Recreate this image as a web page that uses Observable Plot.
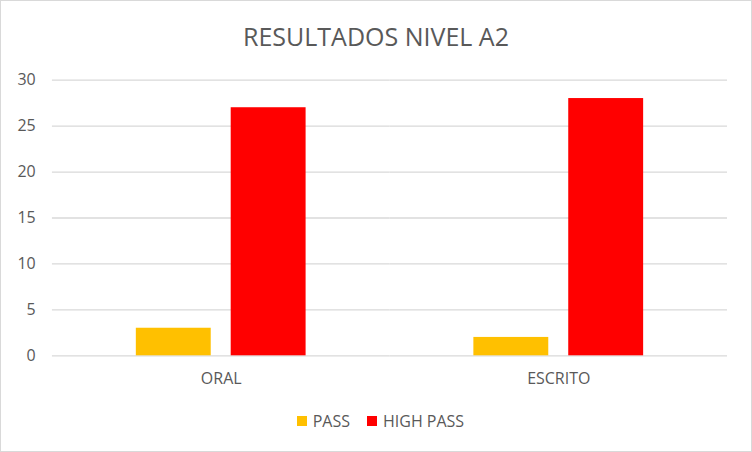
<!DOCTYPE html>
<html>
<head>
<meta charset="utf-8">
<script src="https://cdn.jsdelivr.net/npm/d3@7"></script>
<script src="https://cdn.jsdelivr.net/npm/@observablehq/plot@0.6"></script>
<style>
  html, body { margin: 0; padding: 0; background: #fff; }
  #chart { position: relative; width: 752px; height: 452px; box-sizing: border-box; border: 1px solid #d9d9d9; overflow: hidden; font-family: "Open Sans", sans-serif; color: #595959; }
  #title { position: absolute; left: -1px; width: 752px; top: 18px; text-align: center; font-size: 25px; line-height: normal; white-space: nowrap; }
  #plot { position: absolute; left: -1px; top: 59px; }
  #legend { position: absolute; left: 295.7px; top: 408.6px; display: flex; align-items: center; font-size: 16px; line-height: normal; white-space: nowrap; }
  .sw { width: 10px; height: 10px; display: inline-block; margin-right: 6px; margin-top: 1px; }
  .item { display: flex; align-items: center; margin-right: 17px; }
</style>
</head>
<body>
<div id="chart">
  <div id="title"></div>
  <div id="plot"></div>
  <div id="legend"></div>
</div>
<script>
const titleText = "RESULTADOS NIVEL A2";
const categories = ["ORAL", "ESCRITO"];
const series = ["PASS", "HIGH PASS"];
const passValues = [3, 2];
const highPassValues = [27, 28];
const yTicks = [0, 5, 10, 15, 20, 25, 30];
const colors = ["#FFC000", "#FF0000"];

const seriesValues = [passValues, highPassValues];
const data = [];
categories.forEach((c, i) => {
  series.forEach((s, j) => {
    data.push({category: c, series: s, value: seriesValues[j][i]});
  });
});

document.getElementById("title").textContent = titleText;

const chart = Plot.plot({
  width: 752,
  height: 336,
  marginTop: 19.7,
  marginBottom: 40.3,
  marginLeft: 51,
  marginRight: 24,
  style: {fontFamily: "'Open Sans', sans-serif", fontSize: "16px", color: "#595959", background: "transparent", overflow: "visible"},
  fx: {domain: categories, padding: 0, axis: "bottom", label: null, tickSize: 0, tickPadding: 17},
  x: {domain: series, paddingInner: 0.208, paddingOuter: 0.87, axis: null},
  y: {domain: [0, 30], ticks: yTicks, label: null, tickSize: 0, tickPadding: 16.7},
  color: {domain: series, range: colors},
  marks: [
    Plot.ruleY(yTicks, {stroke: "#d9d9d9", strokeWidth: 1.3}),
    Plot.barY(data, {fx: "category", x: "series", y: "value", fill: "series"}),
    Plot.axisY({ticks: yTicks, tickSize: 0, tickPadding: 16.7, fill: "#595959", fontSize: 16})
  ]
});
document.getElementById("plot").appendChild(chart);

const legend = document.getElementById("legend");
series.forEach((s, j) => {
  const item = document.createElement("div");
  item.className = "item";
  const sw = document.createElement("span");
  sw.className = "sw";
  sw.style.background = colors[j];
  const t = document.createElement("span");
  t.textContent = s;
  item.appendChild(sw);
  item.appendChild(t);
  legend.appendChild(item);
});
</script>
</body>
</html>
